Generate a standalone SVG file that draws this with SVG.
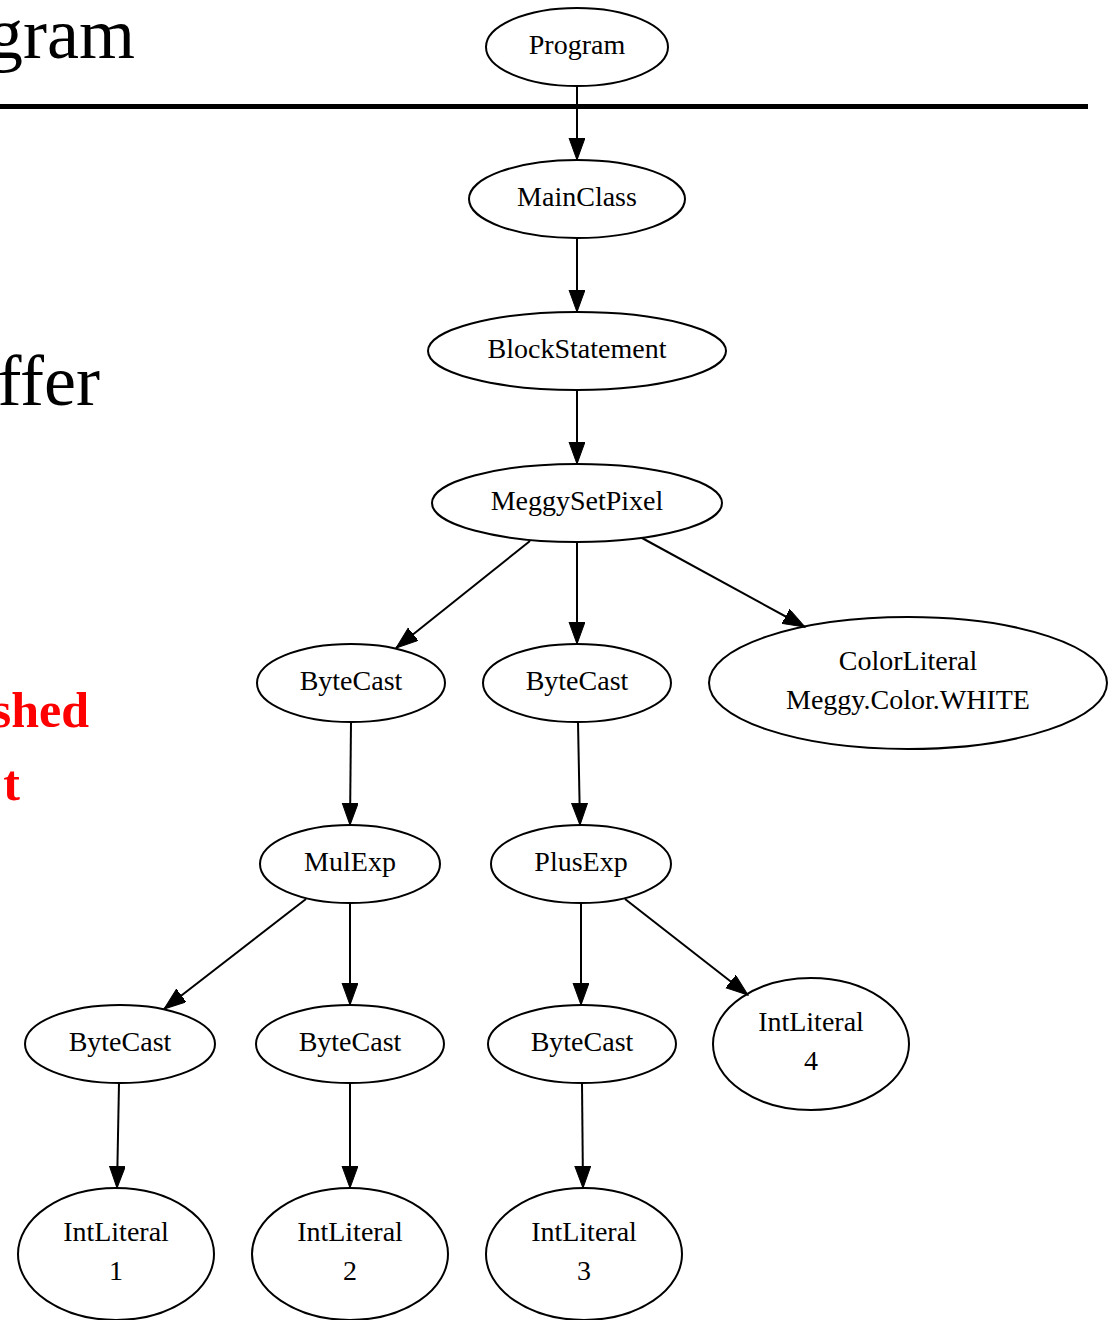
<svg xmlns="http://www.w3.org/2000/svg" width="1115" height="1320" viewBox="0 0 1115 1320">
<style>
.bg{font-family:"Liberation Serif","Times New Roman",serif;font-size:72px;fill:#000}
.red{font-family:"Liberation Serif","Times New Roman",serif;font-size:50px;font-weight:bold;fill:#ff0000}
.node ellipse{fill:none;stroke:#000;stroke-width:2}
.node text{font-family:"Liberation Serif","Times New Roman",serif;font-size:28px;fill:#000;text-anchor:middle}
.edges line{stroke:#000;stroke-width:2}
</style>
<defs>
<marker id="ah" markerUnits="userSpaceOnUse" markerWidth="24" markerHeight="18" refX="22" refY="8" orient="auto">
<path d="M0,0 L22,8 L0,16 Z" fill="#000" stroke="#000" stroke-width="1"/>
</marker>
</defs>
<rect width="1115" height="1320" fill="#fff"/>
<g id="background">
<text class="bg" x="135" y="58" text-anchor="end">gram</text>
<text class="bg" x="100" y="405" text-anchor="end">ffer</text>
<text class="red" x="89" y="727" text-anchor="end">shed</text>
<text class="red" x="20" y="800" text-anchor="end">t</text>
</g>
<g id="edges" class="edges">
<line x1="577" y1="87" x2="577" y2="160" marker-end="url(#ah)"/>
<line x1="577" y1="238" x2="577" y2="312" marker-end="url(#ah)"/>
<line x1="577" y1="390" x2="577" y2="464" marker-end="url(#ah)"/>
<line x1="530" y1="541" x2="396" y2="648" marker-end="url(#ah)"/>
<line x1="577" y1="542" x2="577" y2="644" marker-end="url(#ah)"/>
<line x1="642" y1="538" x2="805" y2="627" marker-end="url(#ah)"/>
<line x1="351" y1="722" x2="350" y2="825" marker-end="url(#ah)"/>
<line x1="578" y1="722" x2="580" y2="825" marker-end="url(#ah)"/>
<line x1="306" y1="899" x2="164" y2="1009" marker-end="url(#ah)"/>
<line x1="350" y1="903" x2="350" y2="1005" marker-end="url(#ah)"/>
<line x1="581" y1="903" x2="581" y2="1005" marker-end="url(#ah)"/>
<line x1="625" y1="899" x2="748" y2="995" marker-end="url(#ah)"/>
<line x1="119" y1="1083" x2="117" y2="1188" marker-end="url(#ah)"/>
<line x1="350" y1="1083" x2="350" y2="1188" marker-end="url(#ah)"/>
<line x1="582" y1="1083" x2="583" y2="1188" marker-end="url(#ah)"/>
</g>
<rect id="rule" x="0" y="104" width="1088" height="5" fill="#000"/>
<g id="program" class="node"><ellipse cx="577" cy="47" rx="91" ry="39"/><text x="577" y="54">Program</text></g>
<g id="mainclass" class="node"><ellipse cx="577" cy="199" rx="108" ry="39"/><text x="577" y="206">MainClass</text></g>
<g id="blockstatement" class="node"><ellipse cx="577" cy="351" rx="149" ry="39"/><text x="577" y="358">BlockStatement</text></g>
<g id="meggysetpixel" class="node"><ellipse cx="577" cy="503" rx="145" ry="39"/><text x="577" y="510">MeggySetPixel</text></g>
<g id="bytecast1" class="node"><ellipse cx="351" cy="683" rx="94" ry="39"/><text x="351" y="690">ByteCast</text></g>
<g id="bytecast2" class="node"><ellipse cx="577" cy="683" rx="94" ry="39"/><text x="577" y="690">ByteCast</text></g>
<g id="colorliteral" class="node"><ellipse cx="908" cy="683" rx="199" ry="66"/><text x="908" y="670">ColorLiteral</text><text x="908" y="709">Meggy.Color.WHITE</text></g>
<g id="mulexp" class="node"><ellipse cx="350" cy="864" rx="90" ry="39"/><text x="350" y="871">MulExp</text></g>
<g id="plusexp" class="node"><ellipse cx="581" cy="864" rx="90" ry="39"/><text x="581" y="871">PlusExp</text></g>
<g id="bytecast3" class="node"><ellipse cx="120" cy="1044" rx="95" ry="39"/><text x="120" y="1051">ByteCast</text></g>
<g id="bytecast4" class="node"><ellipse cx="350" cy="1044" rx="94" ry="39"/><text x="350" y="1051">ByteCast</text></g>
<g id="bytecast5" class="node"><ellipse cx="582" cy="1044" rx="94" ry="39"/><text x="582" y="1051">ByteCast</text></g>
<g id="intliteral4" class="node"><ellipse cx="811" cy="1044" rx="98" ry="66"/><text x="811" y="1031">IntLiteral</text><text x="811" y="1070">4</text></g>
<g id="intliteral1" class="node"><ellipse cx="116" cy="1254" rx="98" ry="66"/><text x="116" y="1241">IntLiteral</text><text x="116" y="1280">1</text></g>
<g id="intliteral2" class="node"><ellipse cx="350" cy="1254" rx="98" ry="66"/><text x="350" y="1241">IntLiteral</text><text x="350" y="1280">2</text></g>
<g id="intliteral3" class="node"><ellipse cx="584" cy="1254" rx="98" ry="66"/><text x="584" y="1241">IntLiteral</text><text x="584" y="1280">3</text></g>
</svg>
